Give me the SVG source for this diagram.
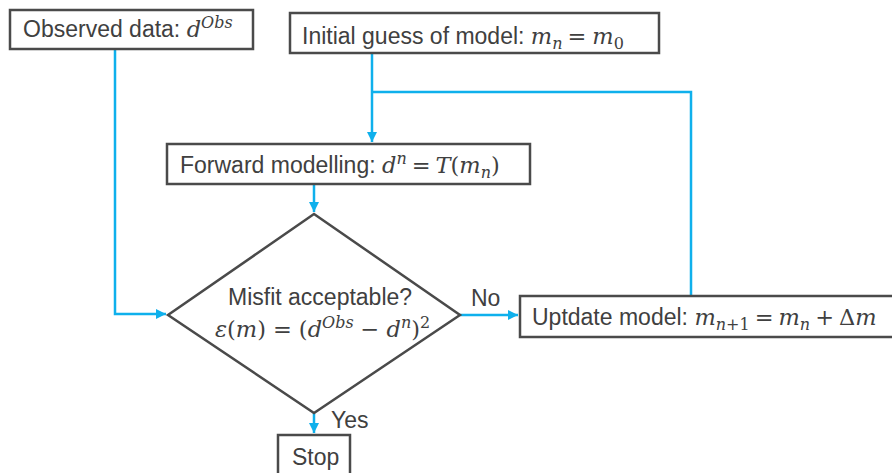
<svg xmlns="http://www.w3.org/2000/svg" width="892" height="473" viewBox="0 0 892 473">
  <defs>
    <style>
      .box { fill: #ffffff; stroke: #4a4a4a; stroke-width: 2.5; }
      .link { fill: none; stroke: #0fb0ec; stroke-width: 2.5; }
      .lbl { font-family: "Liberation Sans", Arial, sans-serif; font-size: 23px; fill: #404040; }
      .m { font-family: "DejaVu Serif", "Liberation Serif", serif; font-style: italic; font-size: 22.5px; }
      .r { font-family: "DejaVu Serif", "Liberation Serif", serif; font-style: normal; font-size: 22.5px; }
      .s { font-size: 16px; }
    </style>
    <marker id="arrow" viewBox="0 0 10 10" refX="10" refY="5" markerWidth="4" markerHeight="4" orient="auto" markerUnits="strokeWidth">
      <path d="M0,0 L10,5 L0,10 Z" fill="#0fb0ec"/>
    </marker>
  </defs>

  <!-- connectors -->
  <g id="connectors">
    <path class="link" d="M115,49 V314 H166" marker-end="url(#arrow)"/>
    <path class="link" d="M372,53 V142" marker-end="url(#arrow)"/>
    <path class="link" d="M691,296 V92 H372"/>
    <path class="link" d="M314,184 V212" marker-end="url(#arrow)"/>
    <path class="link" d="M460,315 H518" marker-end="url(#arrow)"/>
    <path class="link" d="M314,413 V433" marker-end="url(#arrow)"/>
    <text class="lbl" x="471" y="306">No</text>
    <text class="lbl" x="331" y="428">Yes</text>
  </g>

  <!-- observed data -->
  <g id="observed">
    <rect class="box" x="10" y="10" width="243" height="39"/>
    <text class="lbl" x="23" y="37">Observed data: <tspan class="m">d</tspan><tspan class="m s" dy="-9">Obs</tspan></text>
  </g>

  <!-- initial guess -->
  <g id="initial">
    <rect class="box" x="290" y="13" width="369" height="40"/>
    <text class="lbl" x="302" y="44">Initial guess of model: <tspan class="m">m</tspan><tspan class="m s" dy="5">n</tspan><tspan class="r" dy="-5" dx="5">=</tspan><tspan class="m" dx="6">m</tspan><tspan class="r s" dy="5">0</tspan></text>
  </g>

  <!-- forward modelling -->
  <g id="forward">
    <rect class="box" x="167" y="144" width="363" height="40"/>
    <text class="lbl" x="180" y="173">Forward modelling: <tspan class="m">d</tspan><tspan class="m s" dy="-9">n</tspan><tspan class="r" dy="9" dx="5">=</tspan><tspan class="m" dx="5">T</tspan><tspan class="r">(</tspan><tspan class="m">m</tspan><tspan class="m s" dy="5">n</tspan><tspan class="r" dy="-5">)</tspan></text>
  </g>

  <!-- misfit decision -->
  <g id="misfit">
    <polygon class="box" points="314,214 460,315 314,413 168,315"/>
    <text class="lbl" x="228" y="305">Misfit acceptable?</text>
    <text class="lbl" x="215" y="337"><tspan class="m">ε</tspan><tspan class="r">(</tspan><tspan class="m">m</tspan><tspan class="r">)</tspan><tspan class="r" dx="7">=</tspan><tspan class="r" dx="7">(</tspan><tspan class="m">d</tspan><tspan class="m s" dy="-9">Obs</tspan><tspan class="r" dy="9" dx="7">−</tspan><tspan class="m" dx="7">d</tspan><tspan class="m s" dy="-9">n</tspan><tspan class="r" dy="9">)</tspan><tspan class="r s" dy="-9">2</tspan></text>
  </g>

  <!-- update model -->
  <g id="update">
    <rect class="box" x="520" y="296" width="380" height="41"/>
    <text class="lbl" x="532" y="325">Uptdate model: <tspan class="m">m</tspan><tspan class="m s" dy="5">n</tspan><tspan class="r s">+1</tspan><tspan class="r" dy="-5" dx="5">=</tspan><tspan class="m" dx="5">m</tspan><tspan class="m s" dy="5">n</tspan><tspan class="r" dy="-5" dx="5">+</tspan><tspan class="r" dx="5">Δ</tspan><tspan class="m">m</tspan></text>
  </g>

  <!-- stop -->
  <g id="stop">
    <rect class="box" x="278" y="435" width="72" height="45"/>
    <text class="lbl" x="292" y="465">Stop</text>
  </g>
</svg>
